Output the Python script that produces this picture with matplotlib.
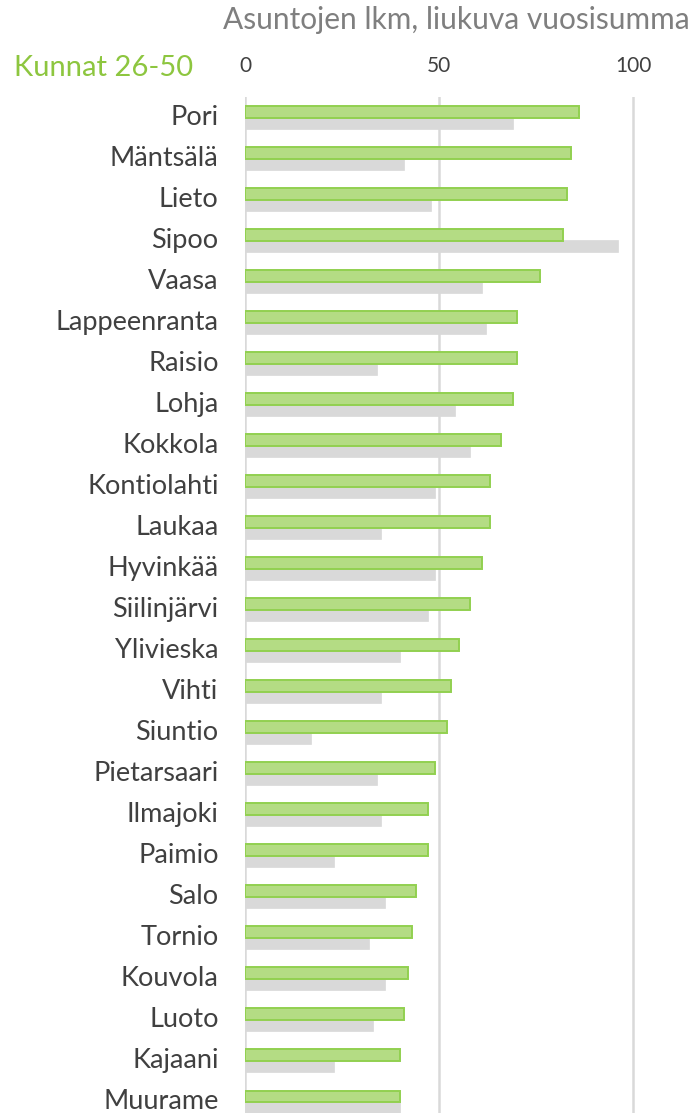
import matplotlib
matplotlib.use("Agg")
import matplotlib.pyplot as plt
import matplotlib.transforms as mtrans
import numpy as np

# municipalities 26-50, top to bottom
kunnat = ["Pori", "Mäntsälä", "Lieto", "Sipoo", "Vaasa", "Lappeenranta", "Raisio",
          "Lohja", "Kokkola", "Kontiolahti", "Laukaa", "Hyvinkää", "Siilinjärvi",
          "Ylivieska", "Vihti", "Siuntio", "Pietarsaari", "Ilmajoki", "Paimio",
          "Salo", "Tornio", "Kouvola", "Luoto", "Kajaani", "Muurame"]
# rolling annual sum, latest (green) and previous (grey)
uusin = [86, 84, 83, 82, 76, 70, 70, 69, 66, 63, 63, 61, 58, 55, 53, 52, 49, 47, 47,
         44, 43, 42, 41, 40, 40]
edellinen = [69, 41, 48, 96, 61, 62, 34, 54, 58, 49, 35, 49, 47, 40, 35, 17, 34, 35, 23,
             36, 32, 36, 33, 23, 40]
xticks = [0, 50, 100]

W, H = 694, 1113
fig = plt.figure(figsize=(W / 100, H / 100), dpi=100)
plt.rcParams["font.family"] = ["Lato", "DejaVu Sans"]

# axes: x=0 at px 245, x=100 at px 633; rows 41 px apart, first row at px 118
x0, x100 = 245, 633.3
ytop, ybot = 97, 118 + 41 * 24.5
xmax = 115
ax = fig.add_axes([x0 / W, (H - ybot) / H, (x100 - x0) / 100 * xmax / W, (ybot - ytop) / H])

y = np.arange(len(kunnat))
h = 0.29
ax.barh(y - 0.135, uusin, height=h, color="#B4DC84", edgecolor="#92D050", linewidth=1.4, zorder=3)
ax.barh(y + 0.135, edellinen, height=h, color="#D9D9D9", edgecolor="#D9D9D9", linewidth=0.5, zorder=2)

ax.set_ylim(len(kunnat) - 0.5, -0.5)
ax.set_xlim(0, xmax)
ax.set_yticks(y)
ax.set_yticklabels(kunnat, fontsize=19.5, color="#404040")
ax.set_xticks(xticks)
ax.set_xticklabels([str(t) for t in xticks], fontsize=15, color="#404040")
ax.xaxis.tick_top()
ax.tick_params(axis="both", length=0)
ax.tick_params(axis="y", pad=19)
ax.tick_params(axis="x", pad=15)
# nudge the row labels up a little
shift = mtrans.ScaledTranslation(0, 2.5 / 100, fig.dpi_scale_trans)
for lab in ax.get_yticklabels():
    lab.set_transform(lab.get_transform() + shift)
for s in ax.spines.values():
    s.set_visible(False)
for t in xticks:
    ax.axvline(t, color="#D9D9D9", lw=1.8, zorder=1)

fig.text(690 / W, 1 - 20 / H, "Asuntojen lkm, liukuva vuosisumma", ha="right", va="center",
         fontsize=21.5, color="#7F7F7F")
fig.text(14 / W, 1 - 68 / H, "Kunnat 26-50", ha="left", va="center", fontsize=21, color="#8DC63F")

fig.savefig("out.png", dpi=100)
